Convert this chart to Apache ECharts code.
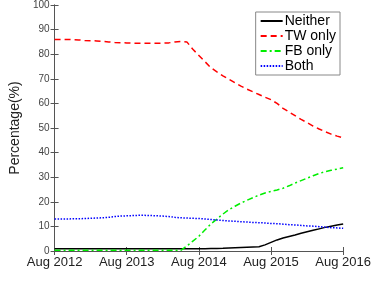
<!DOCTYPE html>
<html><head><meta charset="utf-8">
<script src="https://cdn.jsdelivr.net/npm/echarts@6/dist/echarts.min.js"></script>
<style>html,body{margin:0;padding:0;background:#fff}#c{width:374px;height:284px}</style>
</head><body><div id="c"></div>
<script>
// months since Aug 2012 (0..48)
const months = Array.from({length:49},(_, i)=>i);
const tickLabels = {0:'Aug 2012',12:'Aug 2013',24:'Aug 2014',36:'Aug 2015',48:'Aug 2016'};
const neither = [0.9,0.9,0.9,0.9,0.9,0.9,0.9,0.9,0.9,0.9,0.9,0.9,0.9,0.9,0.9,0.9,0.9,0.9,0.9,0.9,0.9,0.9,0.9,0.9,0.9,0.95,1.0,1.05,1.1,1.2,1.3,1.4,1.5,1.6,1.7,2.5,3.5,4.5,5.3,5.9,6.5,7.2,7.8,8.4,9.0,9.6,10.1,10.6,11.0];
const twOnly = [86,86,86,85.9,85.8,85.6,85.5,85.4,85.2,85,84.8,84.7,84.6,84.5,84.5,84.5,84.5,84.5,84.5,84.6,85,85.2,85,82,79.5,77,74.5,72.8,71.2,69.8,68.4,67,65.8,64.7,63.6,62.5,61.5,60,58,56.5,55,53.5,52.2,50.8,49.6,48.5,47.5,46.7,46];
const fbOnly = [0.3,0.3,0.3,0.3,0.3,0.3,0.3,0.3,0.3,0.3,0.3,0.3,0.3,0.3,0.3,0.3,0.3,0.3,0.3,0.3,0.3,0.3,2,4,6,8.5,11,13,15,16.8,18.2,19.5,20.6,21.7,22.7,23.6,24.2,24.8,25.5,26.5,27.6,28.6,29.6,30.6,31.5,32.2,32.8,33.3,33.8];
const both = [13.0,13.0,13.0,13.1,13.1,13.2,13.3,13.4,13.5,13.7,14.0,14.2,14.3,14.4,14.5,14.5,14.4,14.3,14.2,14.0,13.7,13.5,13.4,13.3,13.2,13.0,12.8,12.6,12.4,12.2,12.1,11.9,11.8,11.6,11.5,11.4,11.2,11.1,10.9,10.7,10.6,10.4,10.2,10.1,9.9,9.7,9.5,9.4,9.2];
const yTicks = [0,10,20,30,40,50,60,70,80,90,100];

const pair = arr => arr.map((v,i)=>[months[i], v]);
const axisLine = {show:true, lineStyle:{color:'#555', width:1}};
const chart = echarts.init(document.getElementById('c'), null, {renderer:'canvas'});
chart.setOption({
  animation:false,
  grid:{left:34, right:27, top:5, bottom:33, containLabel:false},
  xAxis:[{
    type:'value', min:0, max:48, interval:12,
    axisLine:axisLine, axisTick:{show:true, inside:true, length:4, lineStyle:{color:'#555'}},
    splitLine:{show:false},
    axisLabel:{formatter:v=>tickLabels[v]||'', color:'#222', fontSize:13, fontFamily:'Liberation Sans, Arial', margin:5}
  },{
    type:'value', position:'top', min:0, max:48, interval:12,
    axisLine:axisLine, axisTick:{show:true, inside:true, length:4, lineStyle:{color:'#555'}},
    splitLine:{show:false}, axisLabel:{show:false}
  }],
  yAxis:[{
    type:'value', min:0, max:100, interval:10,
    name:'Percentage(%)', nameLocation:'middle', nameGap:28,
    nameTextStyle:{fontSize:14, color:'#222', fontFamily:'Liberation Sans, Arial'},
    axisLine:axisLine, axisTick:{show:true, inside:true, length:4, lineStyle:{color:'#555'}},
    splitLine:{show:false},
    axisLabel:{color:'#444', fontSize:10, fontFamily:'Liberation Sans, Arial', margin:5,
      formatter:v=>yTicks.includes(v)?String(v):''}
  },{
    type:'value', position:'right', min:0, max:100, interval:10,
    axisLine:axisLine, axisTick:{show:true, inside:true, length:4, lineStyle:{color:'#555'}},
    splitLine:{show:false}, axisLabel:{show:false}
  }],
  legend:{
    orient:'vertical', right:34, top:12, itemWidth:22, itemHeight:6, itemGap:1,
    backgroundColor:'#fff', borderColor:'#888', borderWidth:1, padding:[2,4,2,4],
    itemStyle:{opacity:0},
    textStyle:{fontSize:14, color:'#000', fontFamily:'Liberation Sans, Arial', padding:[0,0,0,-3]},
    data:['Neither','TW only','FB only','Both']
  },
  series:[
    {name:'Neither', type:'line', data:pair(neither), showSymbol:false, symbol:'none',
     lineStyle:{color:'#000', width:1.5, type:'solid'}, itemStyle:{color:'#000'}},
    {name:'TW only', type:'line', data:pair(twOnly), showSymbol:false, symbol:'none',
     lineStyle:{color:'#ff0000', width:1.5, type:[6,4]}, itemStyle:{color:'#ff0000'}},
    {name:'FB only', type:'line', data:pair(fbOnly), showSymbol:false, symbol:'none',
     lineStyle:{color:'#00ee00', width:1.5, type:[6,3,2,3]}, itemStyle:{color:'#00ee00'}},
    {name:'Both', type:'line', data:pair(both), showSymbol:false, symbol:'none',
     lineStyle:{color:'#0000ff', width:1.5, type:[1.5,1.5]}, itemStyle:{color:'#0000ff'}}
  ]
});
</script></body></html>
